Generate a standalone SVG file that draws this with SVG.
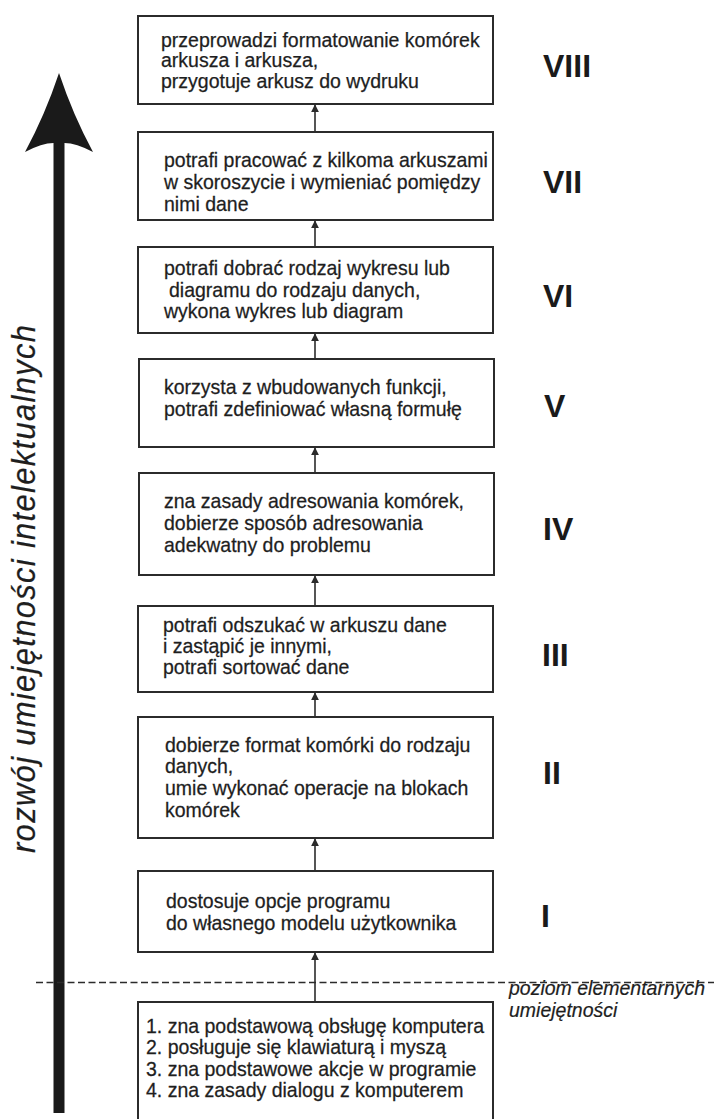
<svg xmlns="http://www.w3.org/2000/svg" width="714" height="1119" viewBox="0 0 714 1119">
  <style>
    .box { fill: #ffffff; stroke: #2b2b2b; stroke-width: 2; }
    .txt { font-family: "Liberation Sans", Arial, sans-serif; font-size: 19.5px; fill: #1e1e1e; stroke: #1e1e1e; stroke-width: 0.25; }
    .num { font-family: "Liberation Sans", Arial, sans-serif; font-size: 32px; font-weight: bold; fill: #1a1a1a; }
    .ital { font-family: "Liberation Sans", Arial, sans-serif; font-style: italic; fill: #1e1e1e; stroke: #1e1e1e; stroke-width: 0.2; }
    .link { stroke: #2b2b2b; stroke-width: 1.6; fill: none; marker-end: url(#head); }
  </style>
  <defs>
    <marker id="head" viewBox="0 0 10 10" refX="9" refY="5" markerWidth="5" markerHeight="5" orient="auto" markerUnits="strokeWidth">
      <path d="M0,0 L10,5 L0,10 Z" fill="#2b2b2b"/>
    </marker>
  </defs>

  <rect width="714" height="1119" fill="#ffffff"/>

  <!-- main growth axis -->
  <g id="axis">
    <path d="M59,73 Q73,115 93,152 Q76,143 64.5,143 L64.5,1113 L53.5,1113 L53.5,143 Q42,143 25,152 Q45,115 59,73 Z" fill="#1a1a1a"/>
    <text class="ital" font-size="31" transform="translate(35,589) rotate(-90) scale(1,1.06)" text-anchor="middle" textLength="528" lengthAdjust="spacing">rozwój umiejętności intelektualnych</text>
  </g>

  <!-- boundary of elementary skills -->
  <g id="baseline-level">
    <line x1="36" y1="982.5" x2="714" y2="982.5" stroke="#2b2b2b" stroke-width="1.6" stroke-dasharray="7 3.5"/>
    <text class="ital" font-size="19.5" transform="translate(509 995) scale(1 1.08)">poziom elementarnych</text>
    <text class="ital" font-size="19.5" transform="translate(509 1017) scale(1 1.08)">umiejętności</text>
  </g>

  <!-- connectors between levels -->
  <g id="connectors">
    <line class="link" x1="315" y1="132" x2="315" y2="105"/>
    <line class="link" x1="315" y1="247" x2="315" y2="221"/>
    <line class="link" x1="315" y1="359" x2="315" y2="334"/>
    <line class="link" x1="315" y1="473" x2="315" y2="448"/>
    <line class="link" x1="315" y1="606" x2="315" y2="576"/>
    <line class="link" x1="315" y1="717" x2="315" y2="693"/>
    <line class="link" x1="315" y1="871" x2="315" y2="839"/>
    <line class="link" x1="315" y1="1002" x2="315" y2="953"/>
  </g>

  <g id="level-8">
    <rect class="box" x="138" y="16" width="355" height="88"/>
    <text class="txt" x="161" y="46.5">przeprowadzi formatowanie komórek</text>
    <text class="txt" x="161" y="67">arkusza i arkusza,</text>
    <text class="txt" x="161" y="87.5">przygotuje arkusz do wydruku</text>
    <text class="num" x="543" y="77">VIII</text>
  </g>

  <g id="level-7">
    <rect class="box" x="138" y="132" width="355" height="88"/>
    <text class="txt" transform="translate(164 167) scale(1 1.08)">potrafi pracować z kilkoma arkuszami</text>
    <text class="txt" transform="translate(164 189) scale(1 1.08)">w skoroszycie i wymieniać pomiędzy</text>
    <text class="txt" transform="translate(164 211) scale(1 1.08)">nimi dane</text>
    <text class="num" x="543" y="193">VII</text>
  </g>

  <g id="level-6">
    <rect class="box" x="138" y="247" width="355" height="86"/>
    <text class="txt" transform="translate(164 275) scale(1 1.08)">potrafi dobrać rodzaj wykresu lub</text>
    <text class="txt" transform="translate(169 297) scale(1 1.08)">diagramu do rodzaju danych,</text>
    <text class="txt" transform="translate(164 318) scale(1 1.08)">wykona wykres lub diagram</text>
    <text class="num" x="543" y="307">VI</text>
  </g>

  <g id="level-5">
    <rect class="box" x="139" y="359" width="355" height="88"/>
    <text class="txt" transform="translate(164 394) scale(1 1.08)">korzysta z wbudowanych funkcji,</text>
    <text class="txt" transform="translate(164 416) scale(1 1.08)">potrafi zdefiniować własną formułę</text>
    <text class="num" x="544" y="417">V</text>
  </g>

  <g id="level-4">
    <rect class="box" x="139" y="473" width="355" height="102"/>
    <text class="txt" transform="translate(164 508) scale(1 1.08)">zna zasady adresowania komórek,</text>
    <text class="txt" transform="translate(164 530) scale(1 1.08)">dobierze sposób adresowania</text>
    <text class="txt" transform="translate(164 552) scale(1 1.08)">adekwatny do problemu</text>
    <text class="num" x="543" y="540">IV</text>
  </g>

  <g id="level-3">
    <rect class="box" x="138" y="606" width="355" height="86"/>
    <text class="txt" transform="translate(163 632) scale(1 1.08)">potrafi odszukać w arkuszu dane</text>
    <text class="txt" transform="translate(163 653) scale(1 1.08)">i zastąpić je innymi,</text>
    <text class="txt" transform="translate(163 674) scale(1 1.08)">potrafi sortować dane</text>
    <text class="num" x="542" y="666">III</text>
  </g>

  <g id="level-2">
    <rect class="box" x="138" y="717" width="355" height="121"/>
    <text class="txt" transform="translate(165 752) scale(1 1.08)">dobierze format komórki do rodzaju</text>
    <text class="txt" transform="translate(165 773) scale(1 1.08)">danych,</text>
    <text class="txt" transform="translate(165 795) scale(1 1.08)">umie wykonać operacje na blokach</text>
    <text class="txt" transform="translate(165 817) scale(1 1.08)">komórek</text>
    <text class="num" x="543" y="784">II</text>
  </g>

  <g id="level-1">
    <rect class="box" x="138" y="871" width="355" height="81"/>
    <text class="txt" transform="translate(166 908) scale(1 1.08)">dostosuje opcje programu</text>
    <text class="txt" transform="translate(166 930) scale(1 1.08)">do własnego modelu użytkownika</text>
    <text class="num" x="541" y="927">I</text>
  </g>

  <g id="level-elementary">
    <rect class="box" x="138" y="1002" width="355" height="140"/>
    <text class="txt" transform="translate(146 1033) scale(1 1.08)">1. zna podstawową obsługę komputera</text>
    <text class="txt" transform="translate(146 1054) scale(1 1.08)">2. posługuje się klawiaturą i myszą</text>
    <text class="txt" transform="translate(146 1076) scale(1 1.08)">3. zna podstawowe akcje w programie</text>
    <text class="txt" transform="translate(146 1097) scale(1 1.08)">4. zna zasady dialogu z komputerem</text>
  </g>
</svg>
